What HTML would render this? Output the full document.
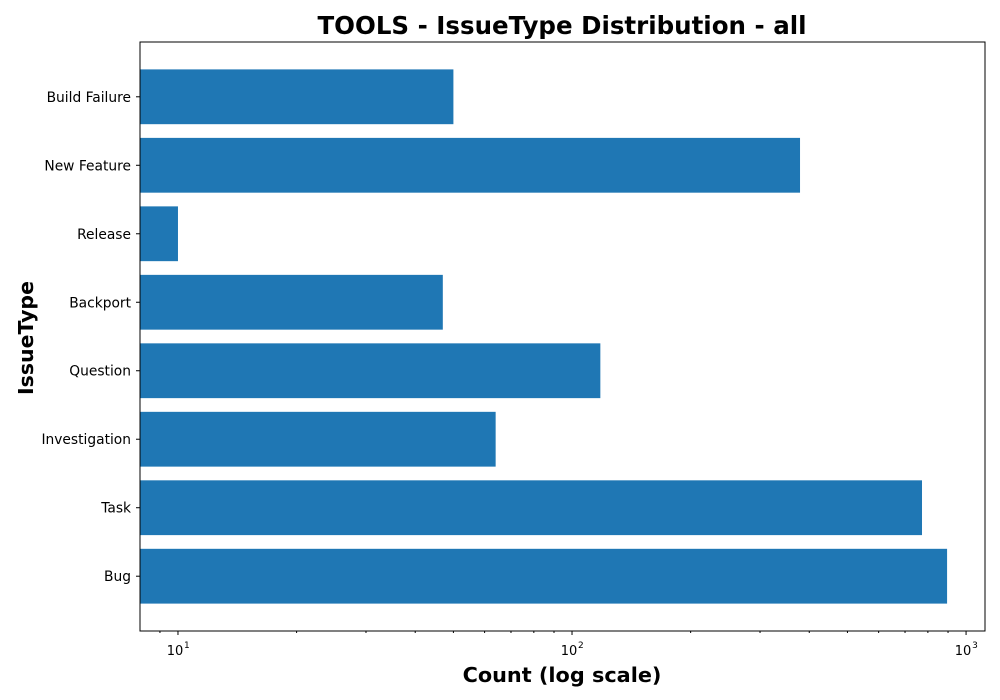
<!DOCTYPE html>
<html><head><meta charset="utf-8"><style>
body{margin:0;background:#fff;}
svg{display:block;font-family:"DejaVu Sans","Liberation Sans",sans-serif;}
</style></head><body>
<svg id="chart" width="1000" height="700">
<text x="562" y="34" text-anchor="middle" font-size="24.5" font-weight="bold">TOOLS - IssueType Distribution - all</text>
<text x="562" y="682" text-anchor="middle" font-size="20.8" font-weight="bold">Count (log scale)</text>
<text transform="translate(33,338) rotate(-90)" text-anchor="middle" font-size="20.5" font-weight="bold">IssueType</text>
<g id="bars"></g><g id="axes"></g>
</svg>
<script>
const categories=["Build Failure","New Feature","Release","Backport","Question","Investigation","Task","Bug"];
const counts=[50,379,10,47,118,64,773,895];
const tickValues=[10,100,1000];
const tickLabels=["10","10","10"];
const tickExps=["1","2","3"];
const L=140,R=985,T=42,B=631;
const lmin=Math.log10(8.01),lmax=Math.log10(1117);
const x=v=>L+(Math.log10(v)-lmin)/(lmax-lmin)*(R-L);
const n=categories.length;
const step=(B-T)/(n+0.6);
const y=i=>T+step*(0.8+i);
const ns="http://www.w3.org/2000/svg";
const bars=document.getElementById('bars'),axes=document.getElementById('axes');
function mk(t,a,p){const e=document.createElementNS(ns,t);for(const k in a)e.setAttribute(k,a[k]);p.appendChild(e);return e;}
categories.forEach((c,i)=>{
 const r=mk('rect',{x:L,y:y(i)-step*0.4,width:x(counts[i])-L,height:step*0.8,fill:'#1f77b4'},bars);
 
 
 mk('line',{x1:L-4,x2:L,y1:y(i),y2:y(i),stroke:'#000'},axes);
 const t=mk('text',{x:L-9,y:y(i)+5,'text-anchor':'end','font-size':13.8},axes);
 t.textContent=c;
 
 
});
const fr=mk('rect',{x:L,y:T,width:R-L,height:B-T,fill:'none',stroke:'#000','stroke-width':1},axes);


for(let d=0;d<4;d++)for(let m=2;m<10;m++){const v=m*Math.pow(10,d);if(v>8&&v<1117)mk('line',{x1:x(v),x2:x(v),y1:B,y2:B+2,stroke:'#000'},axes);}
tickValues.forEach((v,i)=>{
 mk('line',{x1:x(v),x2:x(v),y1:B,y2:B+4,stroke:'#000'},axes);
 const t=mk('text',{x:x(v)-3,y:B+24,'text-anchor':'middle','font-size':13},axes);
 t.textContent=tickLabels[i];
 
 
 const e=mk('text',{x:x(v)+6,y:B+17,'font-size':9},axes);
 e.textContent=tickExps[i];
});
</script>
</body></html>
